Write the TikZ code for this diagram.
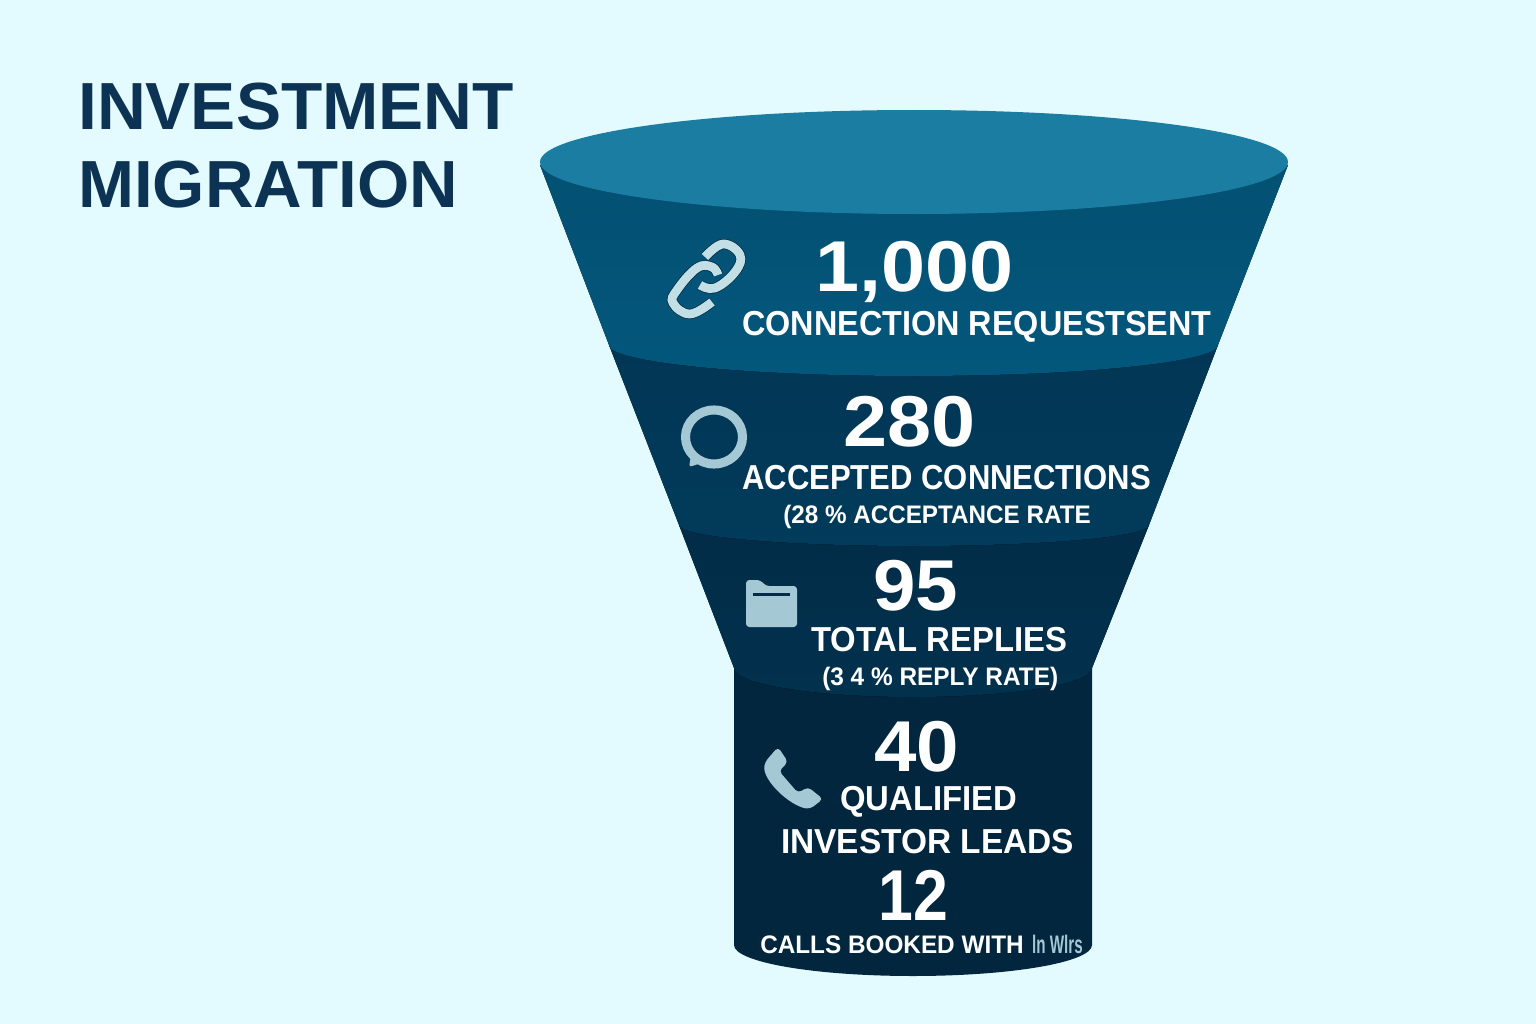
\documentclass[tikz,border=0pt]{standalone}
\usepackage{fontspec}
\setmainfont{Liberation Sans}
\definecolor{bgpale}{HTML}{E3FBFF}
\definecolor{titleink}{HTML}{0C3354}
\definecolor{rimtop}{HTML}{1A7DA1}
\definecolor{bandone}{HTML}{03577C}
\definecolor{bandtwo}{HTML}{023655}
\definecolor{bandthree}{HTML}{022C47}
\definecolor{stemdark}{HTML}{02263D}
\definecolor{iconlight}{HTML}{A5C8D5}
\definecolor{linklight}{HTML}{C2DFE5}
\tikzset{
  titletext/.style={anchor=base west,inner sep=0pt,text=titleink,font=\fontsize{50}{50}\selectfont\bfseries},
  numtext/.style={anchor=base west,inner sep=0pt,text=white,font=\fontsize{54}{54}\selectfont\bfseries},
  captext/.style={anchor=base west,inner sep=0pt,text=white,font=\fontsize{26}{26}\selectfont\bfseries},
  subtext/.style={anchor=base west,inner sep=0pt,text=white,font=\fontsize{19}{19}\selectfont\bfseries},
  linkline/.style={draw=linklight,line width=6.6pt,preaction={draw=stemdark,line width=7.6pt}},
}
\begin{document}
\begin{tikzpicture}[x=0.75pt,y=0.75pt,yscale=-1,xscale=1]
\useasboundingbox (0,0) rectangle (1536,1024);
\fill [bgpale] (0,0) rectangle (1536,1024);
%Stem
\fill [stemdark] (734,660) -- (734,945) arc [start angle=180,end angle=0,x radius=179,y radius=31] -- (1092,660) -- cycle;
%Band three
\fill [top color=bandthree,bottom color=bandthree!88!bandone] (679,525) -- (734,668) arc [start angle=180,end angle=0,x radius=179,y radius=29] -- (1149,525) -- cycle;
%Band two
\fill [top color=bandtwo,bottom color=bandtwo!85!bandone] (609,345) -- (679,525) arc [start angle=180,end angle=0,x radius=235,y radius=21] -- (1218,345) -- cycle;
%Band one
\fill [top color=bandone!92!black,bottom color=bandone] (540,165) -- (609,345) arc [start angle=180,end angle=0,x radius=304.5,y radius=31] -- (1288,165) -- cycle;
%Rim
\fill [rimtop] (914,162) ellipse [x radius=374,y radius=52];
%Link icon
\draw [linkline] plot [smooth,tension=0.7] coordinates {(705,257) (723,244) (740,255) (735,272) (715,288) (700,285)};
\draw [linkline] plot [smooth,tension=0.7] coordinates {(712,302) (690,314) (673,303) (677,290) (697,268) (712,267) (718,275)};
%Speech icon
\draw [draw=iconlight,line width=6.8pt] (714,437) ellipse [x radius=28.5,y radius=27];
\fill [iconlight,rounded corners=2pt] (692,450) -- (689,467) -- (708,461) -- cycle;
%Folder icon
\fill [iconlight,rounded corners=2.5pt] (746,580) -- (760,580) -- (766,586) -- (797,586) -- (797,627) -- (746,627) -- cycle;
\fill [bandthree] (753,593) rectangle (790,596);
%Phone icon
\fill [iconlight,rounded corners=3pt] (778,747) -- (788,762) -- (779,771) -- (798,793) -- (808,787) -- (823,799) -- (810,809) .. controls (790,806) and (762,780) .. (765,762) -- cycle;
% Text Node
\draw (78,129.5) node (titleone) [titletext,xscale=1.014] {INVESTMENT};
% Text Node
\draw (78,207.5) node (titletwo) [titletext,xscale=1.008] {MIGRATION};
% Text Node
\draw (815,291) node (numsent) [numtext,xscale=1.1] {1,000};
% Text Node
\draw (742,335) node (capsent) [captext,xscale=0.934] {CONNECTION REQUESTSENT};
% Text Node
\draw (843,446) node (numacc) [numtext,xscale=1.1] {280};
% Text Node
\draw (742,489) node (capacc) [captext,xscale=0.895] {ACCEPTED CONNECTIONS};
% Text Node
\draw (783,523) node (subacc) [subtext,xscale=0.957] {(28 \% ACCEPTANCE RATE};
% Text Node
\draw (873,610) node (numrep) [numtext,xscale=1.06] {95};
% Text Node
\draw (811,651) node (caprep) [captext,xscale=0.948] {TOTAL REPLIES};
% Text Node
\draw (822,685) node (subrep) [subtext,xscale=0.963] {(3 4 \% REPLY RATE)};
% Text Node
\draw (874,771) node (numqual) [numtext,xscale=1.06] {40};
% Text Node
\draw (840,810) node (capqual) [captext,xscale=0.947] {QUALIFIED};
% Text Node
\draw (781,853) node (capinv) [captext,xscale=0.964] {INVESTOR LEADS};
% Text Node
\draw (878,920) node (numcall) [numtext,xscale=0.87] {12};
% Text Node
\draw (760,953) node (capcall) [subtext,xscale=0.96] {CALLS BOOKED WITH};
% Text Node
\draw (1032,953) node (capname) [subtext,text=iconlight,xscale=0.6] {ln Wlrs};
\end{tikzpicture}
\end{document}
